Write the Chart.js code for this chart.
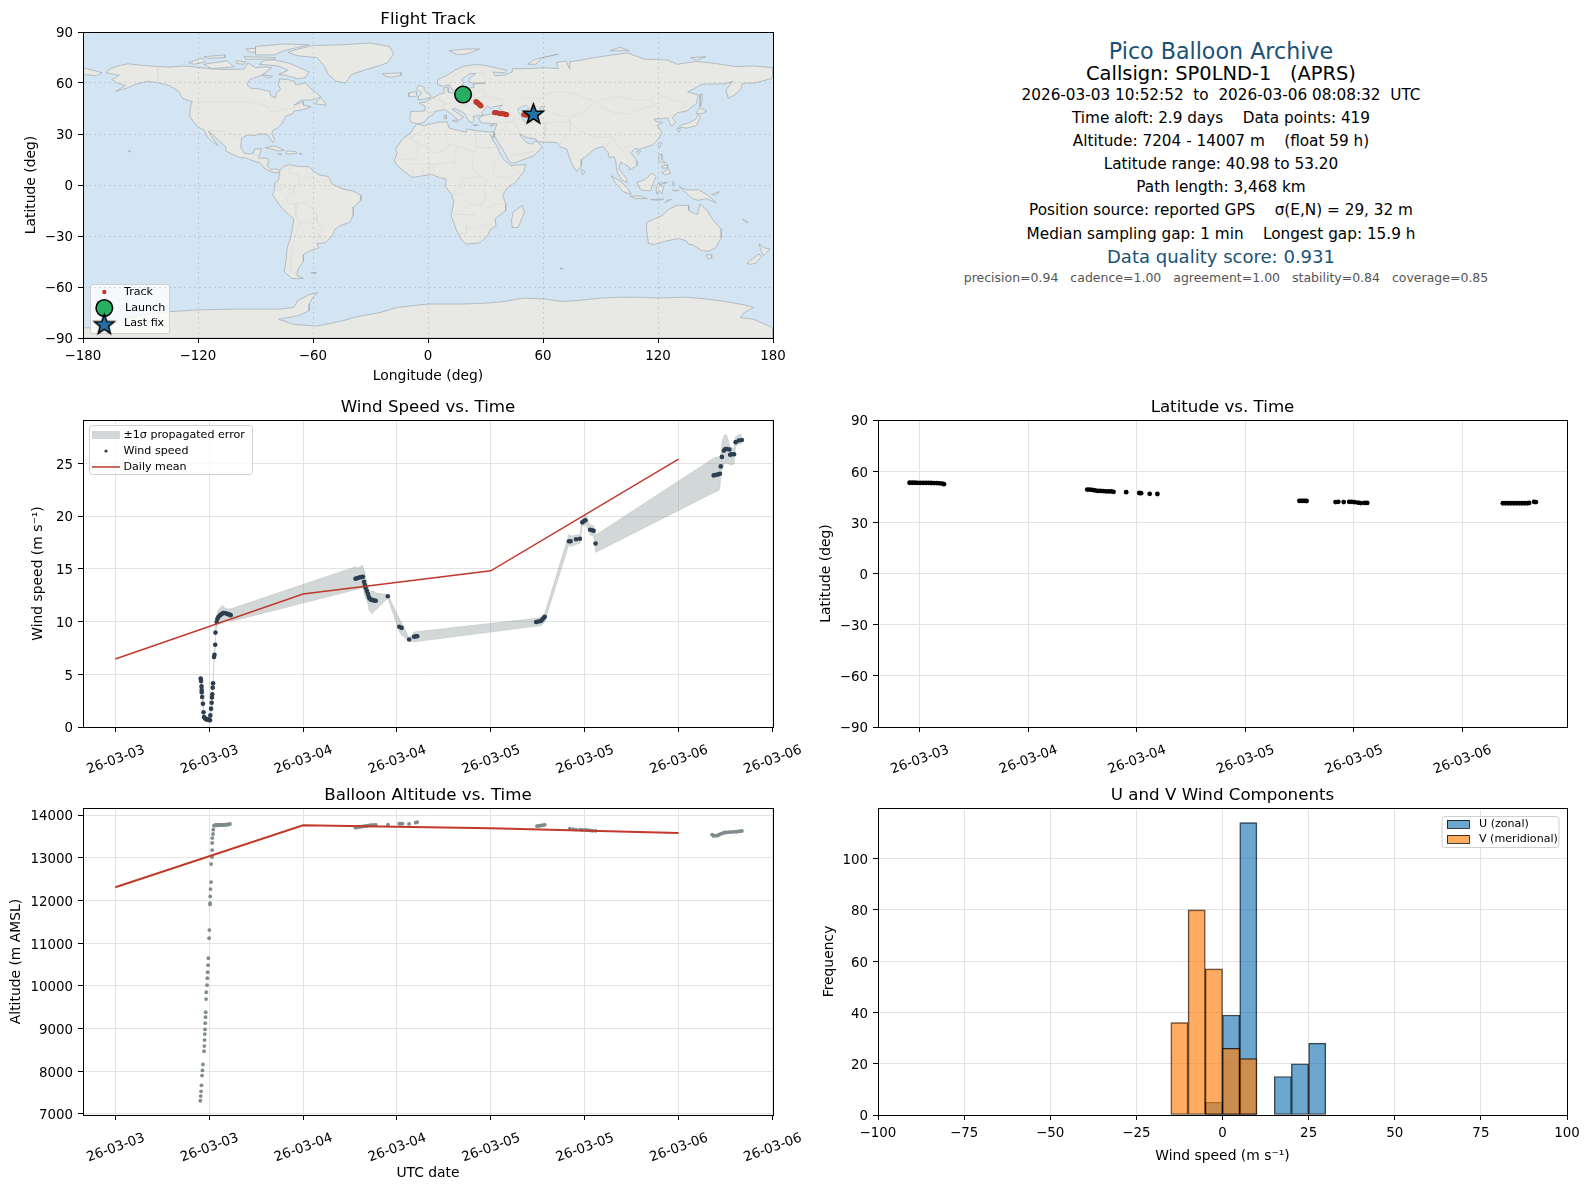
<!DOCTYPE html>
<html><head><meta charset="utf-8">
<script src="https://cdn.jsdelivr.net/npm/chart.js@4/dist/chart.umd.min.js"></script>
<style>
html,body{margin:0;padding:0;background:#fff;width:1589px;height:1189px;overflow:hidden;font-family:"DejaVu Sans",sans-serif}
canvas{position:absolute}
.t{position:absolute;left:840px;width:762px;text-align:center;white-space:pre;color:#000;transform:translateY(-50%);line-height:1}
</style></head><body>
<div id="info"></div>
<script>
// ---------- tick values and labels ----------
const windTickHours=[0,12,24,36,48,60,72,84];
const windTickLabels=["26-03-03","26-03-03","26-03-04","26-03-04","26-03-05","26-03-05","26-03-06","26-03-06"];
const latTickHours=[12,24,36,48,60,72];
const latTickLabels=["26-03-03","26-03-04","26-03-04","26-03-05","26-03-05","26-03-06"];
const lonTicks=[-180,-120,-60,0,60,120,180];
const latTicks=[-90,-60,-30,0,30,60,90];
const windTicks=[0,5,10,15,20,25];
const altTicks=[7000,8000,9000,10000,11000,12000,13000,14000];
const histXTicks=[-100,-75,-50,-25,0,25,50,75,100];
const histYTicks=[0,20,40,60,80,100];

// ---------- wind speed vs time (hours since 26-03-03 00:00) ----------
const windHours=[10.92,10.96,11.02,11.04,11.05,11.1,11.2,11.28,11.34,11.45,11.56,11.7,11.85,12.0,12.1,12.15,12.24,12.32,12.36,12.4,12.45,12.5,12.62,12.68,12.77,12.8,12.96,13.05,13.2,13.4,13.6,13.8,14.0,14.2,14.4,14.6,14.75,
30.7,30.9,31.1,31.3,31.5,31.65,31.8,31.9,32.0,32.15,32.3,32.4,32.5,32.7,32.85,33.05,33.3,34.84,36.3,36.6,37.56,38.2,38.4,38.6,
53.8,54.1,54.4,54.6,54.8,54.9,58.0,58.2,58.9,59.4,59.7,59.9,60.1,60.7,60.95,61.15,61.4,
76.5,76.8,77.1,77.3,77.4,77.55,77.8,78.0,78.2,78.5,78.6,78.8,79.1,79.3,79.7,80.1];
const windSpeed=[4.59,4.35,3.85,3.5,3.3,2.84,2.2,1.4,0.95,0.85,0.75,0.72,0.7,0.68,0.65,1.1,1.74,2.3,2.8,3.1,3.73,4.14,6.63,6.85,7.8,8.95,9.95,10.25,10.45,10.6,10.7,10.8,10.8,10.75,10.7,10.65,10.6,
14.05,14.1,14.15,14.2,14.22,14.24,13.76,13.45,13.2,12.9,12.6,12.35,12.18,12.05,12.05,12.0,11.96,12.4,9.5,9.4,8.3,8.55,8.6,8.6,
9.95,10.0,10.05,10.2,10.35,10.45,17.6,17.6,17.8,17.85,19.4,19.5,19.6,18.7,18.65,18.6,17.4,
23.85,23.9,23.95,24.0,24.7,25.6,26.2,26.35,26.35,26.3,25.8,25.85,25.85,27.0,27.15,27.2];
const windUpper=[4.9,4.65,4.15,3.8,3.6,3.1,2.45,1.65,1.15,1.05,0.95,0.9,0.9,0.88,0.85,1.3,2.0,2.55,3.05,3.35,4.0,4.4,6.95,7.2,8.15,9.4,10.5,10.9,11.1,11.3,11.5,11.5,11.3,11.25,11.2,11.2,11.2,
15.2,15.1,15.1,15.2,15.3,15.3,14.8,14.5,14.15,13.8,13.4,13.1,12.9,12.9,12.9,12.9,12.7,12.55,10.3,9.9,8.45,9.0,9.05,9.05,
10.3,10.35,10.4,10.55,10.7,10.8,18.3,18.1,18.2,18.2,19.8,19.95,20.1,19.2,19.1,19.1,18.2,
25.5,25.6,25.6,25.7,25.8,27.0,27.6,27.75,27.6,26.8,26.6,26.5,26.4,27.5,27.7,27.75];
const windLower=[4.3,4.1,3.6,3.25,3.05,2.6,1.95,1.2,0.75,0.65,0.55,0.52,0.5,0.48,0.45,0.9,1.5,2.05,2.55,2.85,3.45,3.9,6.3,6.5,7.45,8.5,9.5,9.7,9.85,9.95,9.95,10.1,10.15,10.1,10.1,10.1,10.0,
13.0,13.0,13.1,13.15,13.15,13.2,12.8,12.5,12.3,12.0,11.6,11.2,11.0,10.85,10.7,10.95,11.1,12.2,9.0,8.7,8.15,8.05,8.1,8.1,
9.55,9.55,9.6,9.75,9.85,10.0,17.3,17.1,17.3,17.4,19.0,19.1,19.2,18.2,18.15,18.1,16.55,
22.2,22.3,22.4,22.6,23.8,24.3,24.9,25.0,25.0,24.9,24.8,24.85,24.9,26.6,26.8,26.85];
const meanHours=[0,24,48,72];
const meanWind=[6.45,12.6,14.8,25.4];
const meanAltitude=[12310,13760,13690,13580];

// ---------- latitude vs time ----------
const latHours=[10.9,11.2,11.5,11.8,12.1,12.4,12.7,13,13.3,13.6,13.9,14.2,14.5,14.7,
30.55,30.8,31.1,31.4,31.7,32,32.3,32.6,32.9,33.2,33.45,34.85,36.3,36.5,37.45,38.3,
54,54.2,54.4,54.6,54.8,58,58.3,58.9,59.5,59.8,60.1,60.5,60.8,61.2,61.5,
76.5,76.8,77.1,77.4,77.7,78,78.3,78.6,78.9,79.2,79.4,79.95,80.15];
const latValues=[53.2,53.2,53.2,53.15,53.1,53.1,53.1,53.1,53.05,53,53,52.9,52.7,52.4,
49.2,49.2,49,48.7,48.4,48.4,48.3,48.2,48.1,48.1,47.9,47.7,47.2,47.1,46.7,46.6,
42.6,42.6,42.6,42.6,42.5,41.9,42,41.9,42,42,41.8,41.5,41.3,41.4,41.4,
41.2,41.2,41.2,41.2,41.2,41.2,41.2,41.2,41.2,41.2,41.4,42,41.9];

// ---------- altitude vs time ----------
const altHours=[10.87,10.92,10.96,11.02,11.09,11.14,11.2,11.35,11.38,11.41,11.44,11.47,11.5,11.53,11.56,11.6,11.63,11.73,11.76,11.8,11.86,11.9,11.99,12.02,12.11,12.12,12.13,12.17,12.24,12.25,12.37,12.38,12.39,12.4,12.5,12.52,12.62,
12.7,12.8,12.9,13,13.1,13.2,13.3,13.4,13.5,13.6,13.7,13.8,13.9,14,14.1,14.2,14.3,14.4,14.5,14.66,
30.7,30.9,31.1,31.3,31.5,31.7,31.9,32.1,32.3,32.5,32.7,32.9,33.1,33.3,34.85,36.3,36.5,36.7,37.55,38.4,38.6,
53.9,54.1,54.3,54.5,54.7,54.9,58.1,58.5,58.9,59.4,59.7,60.1,60.4,60.7,61,61.4,
76.3,76.5,76.7,77,77.2,77.4,77.6,77.8,78,78.2,78.5,78.7,79,79.3,79.5,79.8,80.1];
const altValues=[7310,7420,7530,7670,7900,8020,8160,8470,8590,8730,8870,8980,9125,9266,9383,9690,9850,10016,10180,10320,10484,10648,11117,11305,11906,11937,12094,12266,12430,12852,13016,13180,13344,13461,13555,13656,13750,
13755,13760,13760,13760,13765,13765,13765,13770,13770,13770,13770,13770,13770,13770,13775,13775,13775,13780,13780,13790,
13703,13710,13720,13725,13730,13735,13740,13745,13750,13755,13760,13760,13765,13766,13773,13797,13800,13797,13790,13820,13835,
13740,13745,13750,13755,13760,13770,13680,13670,13660,13660,13650,13650,13645,13640,13630,13630,
13540,13510,13515,13520,13540,13560,13570,13585,13590,13595,13600,13600,13605,13610,13610,13620,13625];

// ---------- histogram ----------
const binCenters=[-12.5,-7.5,-2.5,2.5,7.5,12.5,17.5,22.5,27.5];
const uCounts=[0,0,5,39,114,0,15,20,28];
const vCounts=[36,80,57,26,22,0,0,0,0];

// ---------- flight track ----------
const trackLon=[18,18.5,19,19.5,20,20.5,25,25.5,26,26.5,27,27.3,27.6,34.7,35.5,36,37.5,38.5,39.5,40.5,41,50,50.8,52,53,54,55];
const trackLat=[53.2,53.1,53,52.9,52.7,52.4,49,48.7,48.3,47.8,47.2,46.9,46.6,42.6,42.6,42.5,42,42,41.9,41.5,41.4,41.4,41.2,41.2,41.2,41.4,41.9];
const launchLon=[18.3], launchLat=[53.2];
const lastLon=[55], lastLat=[41.5];

// ---------- land outlines (lon,lat) ----------
const northAmerica=[[-168,66],[-166,68.3],[-161,70.3],[-156.5,71.3],[-150,70.5],[-141,69.7],[-135,69.3],[-128,70],[-124,69.7],[-115,68.5],[-108,68],[-102,68],[-96,68.2],[-94,71.8],[-90,69],[-85,69.5],[-81.5,69],[-85,66],[-87,64.5],[-93,62],[-94.5,59],[-92.5,57],[-88,56.5],[-82.5,55],[-82,52.5],[-79.5,51.2],[-79,54.5],[-77,56],[-78,59],[-77.5,62.4],[-73,62],[-70,61],[-69,59],[-65.5,59.5],[-64,60.3],[-61,56.5],[-57,53],[-56,51.8],[-60,50],[-66,50],[-70,47],[-65,49],[-65,47],[-61,46],[-66,44],[-70,43.5],[-70.5,42],[-74,40.6],[-75.5,38],[-76,36.5],[-78,34],[-81,32],[-81.5,30],[-80,26.5],[-81,25],[-82.7,28],[-84,30],[-89,30],[-90,29],[-94,29.5],[-97.3,27.5],[-97.7,22],[-96,19],[-94,18.2],[-91,18.7],[-90.5,21],[-87,21.5],[-88,17],[-88.5,15.8],[-84,15.8],[-83.3,14.5],[-83.7,11],[-82,9],[-79.5,9.5],[-77.3,8.7],[-78,7.3],[-80.5,7.3],[-83,8.3],[-85.5,10],[-87.5,13],[-92,14.5],[-95,16],[-98,16],[-102,18],[-105.5,20],[-105.5,22.5],[-109,26],[-112.7,30],[-114.7,31.7],[-112,27],[-109.5,23],[-112,25],[-115,28],[-117,32.5],[-120.5,34.5],[-122.5,37.5],[-124.3,40.5],[-124,46],[-123,49],[-128,51],[-130,55],[-135,58.5],[-140,60],[-146,61],[-152,59.5],[-157,57],[-163,55],[-158,58.5],[-162,60],[-165,62],[-161,64.5],[-168,66]];
const greenland=[[-73,78],[-68,80],[-60,82],[-45,82.5],[-30,83.5],[-20,81.5],[-18,77],[-21,72],[-26,70],[-32,68],[-40,65],[-43,60],[-48,61],[-52,65],[-54,70],[-58,75],[-68,76],[-73,78]];
const baffin=[[-80,73.5],[-72,71.5],[-67,69],[-62,66.5],[-64,63],[-68,62.5],[-74,64.5],[-78,65],[-73,67.5],[-78,70],[-88,71],[-85,73.5],[-80,73.5]];
const victoriaIsland=[[-117,71],[-105,73],[-101,69.5],[-113,68.5],[-117,71]];
const ellesmere=[[-90,76.5],[-80,76.5],[-75,79],[-62,82.5],[-75,83],[-90,81.5],[-90,76.5]];
const banksIsland=[[-125,72],[-118,74.5],[-116,72.5],[-122,71],[-125,72]];
const devonIsland=[[-96,75.5],[-80,75],[-80,74],[-95,74],[-96,75.5]];
const melvilleIsland=[[-117,75.5],[-106,76.5],[-106,75],[-115,74.5],[-117,75.5]];
const axelHeiberg=[[-95,80],[-88,80.5],[-88,78.5],[-93,78],[-95,80]];
const somersetIsland=[[-100,73],[-95,72.5],[-96,71],[-100,71.5],[-100,73]];
const newfoundland=[[-59,47.7],[-56,51.5],[-53,47],[-59,47.7]];
const southampton=[[-87,65],[-81,64],[-83,62.8],[-87,65]];
const cuba=[[-85,22],[-80,23],[-75,20.5],[-78,20],[-85,22]];
const hispaniola=[[-74,20],[-69,19.7],[-68.5,18.5],[-74,18.2],[-74,20]];
const jamaica=[[-78.3,18.4],[-76.3,18.2],[-77,17.8],[-78.3,18.4]];
const puertoRico=[[-67.2,18.5],[-65.7,18.4],[-66,18],[-67.2,18.5]];
const hawaii=[[-156,19.5],[-155,19.6],[-155.5,20.2],[-156,19.5]];
const southAmerica=[[-77.3,8.7],[-75,11],[-72,12],[-68,11],[-62,10.7],[-60,8.5],[-57,6],[-52,5],[-50,0.5],[-44,-2.5],[-39,-3.5],[-35,-6],[-35,-9],[-39,-13],[-39,-18],[-41,-22],[-46,-24],[-48.5,-26],[-50,-30],[-53.5,-34],[-58,-34.5],[-57,-37],[-62,-39],[-65,-41],[-65,-45],[-68,-50],[-68.5,-53],[-65,-55],[-71,-55],[-75,-51],[-74,-44],[-73.5,-37],[-71.5,-30],[-70,-20],[-76,-14],[-81,-6],[-80,-2],[-80,1],[-78,3],[-77.5,7],[-77.3,8.7]];
const falklands=[[-61,-51.5],[-58,-51.5],[-59,-52.3],[-61,-51.5]];
const africa=[[-6,35.8],[-2,35],[5,36.8],[10,37.3],[11,33.5],[15,32.3],[20,31],[20,33],[25,32],[32,31.2],[34.3,31.3],[34.3,27.8],[33,28.5],[32.5,29.8],[34,26],[36,23],[37.5,18.5],[39.5,15],[43,11.5],[51,12],[50,8],[46,2],[41,-2],[39,-6],[40.5,-11],[40.5,-15],[35,-20],[35.5,-24],[32.7,-26],[31,-30],[27,-34],[20,-34.8],[18,-33],[15,-27],[12,-18],[13.5,-10],[12,-5],[9,-1],[9.5,3.5],[6,4.3],[2,6.3],[-4,5.2],[-8,4.4],[-13,8.5],[-16.5,12],[-17.5,14.7],[-16,19],[-17,21],[-13,27.5],[-9.7,30],[-6,35.8]];
const madagascar=[[49.3,-12],[50.3,-16],[47,-25],[44,-25],[43.5,-21],[44.5,-16],[49.3,-12]];
const eurasia=[[-9,37],[-9.5,39],[-9,43.3],[-2,43.5],[-1.2,46],[-4.7,48.3],[-1.5,48.7],[1.5,50.9],[4,52],[6,53.5],[8.5,54],[8.2,57],[10.5,57.5],[10.5,54.5],[14,54],[19,54.5],[21,57],[24,57.3],[23.5,59.3],[30,60],[23,60],[21,61],[22,63],[25,65.5],[22,65.7],[17.5,62],[18.7,60],[16.5,57],[14,55.5],[12.7,56],[11,59],[8,58],[5.2,59],[5,62],[10,64.5],[14,67.5],[19,70],[26,71],[31,70],[41,67.5],[40,66],[34,66.5],[35,64.3],[40,64.7],[44,66.5],[44,68.5],[54,68.5],[60,69],[68,68.5],[67,72],[72,73],[74,68],[74,72.5],[80,73.5],[87,75],[104,77.7],[113,74],[125,73.5],[130,71],[140,72.7],[150,71.5],[160,69.7],[170,70],[180,69],[180,65],[179,62.5],[170,60],[164,59.8],[163,56],[160,53],[156.7,51],[155.5,56],[159,61],[155,59.5],[143,59.3],[135.5,54.7],[141,53],[140,48],[135,43.5],[130,42.5],[127.5,39.5],[129.3,37],[127,34.5],[126,37],[125,39.5],[121.5,39],[118,39],[119,37.3],[122.5,37],[119.5,35],[122,31],[121,28],[117,23.5],[110.5,21],[108,21.5],[106,19],[109,14],[109,11.5],[105,8.7],[105,10.5],[102,12.5],[100.5,13.5],[99.5,9.5],[103.5,4],[104,1.4],[101,3],[98.5,8],[98,14],[97,16.7],[94.5,16],[94,19],[91.5,22.5],[89,22],[87,21.3],[82,16.5],[80,15],[80,11],[77.5,8],[75,12.5],[73,19],[72.5,21],[69,22.5],[67,25],[61.5,25.2],[57,25.5],[56.3,27],[51,28],[48.5,30],[48,29.5],[50,26.5],[51.5,25],[54,24],[56.3,26],[59.7,22.5],[55,17],[45,13],[43,13],[39,21],[35,28],[34.5,31.3],[36,36],[32,36.2],[27.5,36.7],[26.5,39.5],[29,41],[35,42],[41.5,41.5],[37,45],[39,47],[34,46],[33,45],[31,46.5],[28,42.5],[28.9,41],[26,40.7],[23.5,40.2],[24,38],[23,36.5],[21,38],[19.5,41],[19,42.3],[14,45],[12.5,44.5],[18.5,40],[16,38],[12,42],[9,44.3],[3.5,43.3],[3,41.8],[0,39.8],[-2,36.8],[-5.5,36],[-9,37]];
const chukotkaEast=[[-180,69],[-175,67.5],[-170,66],[-173,64.3],[-180,65],[-180,69]];
const britain=[[-5,50],[1,51.2],[1.5,52.7],[-1,54.5],[-2,56],[-2,57.6],[-5,58.6],[-6,56.5],[-3,54],[-5,52],[-5,50]];
const ireland=[[-10,52],[-6,52.2],[-6,55],[-10,54.2],[-10,52]];
const iceland=[[-24,65.5],[-14,66],[-14,64.5],[-19,63.4],[-22,64],[-24,65.5]];
const svalbard=[[11,79],[20,80],[27,80],[20,77],[15,76.8],[11,79]];
const novayaZemlya=[[52,71],[56,74],[68,77],[60,75],[56,71],[52,71]];
const severnaya=[[95,79],[105,79],[100,81],[95,79]];
const newSiberian=[[137,75],[145,75.5],[140,73.5],[137,75]];
const sicily=[[12.5,38],[15.5,38.2],[15,36.7],[12.5,38]];
const sardinia=[[8.3,41],[9.7,41],[9.5,39],[8.5,39],[8.3,41]];
const crete=[[23.5,35.5],[26.3,35.2],[24,35],[23.5,35.5]];
const cyprus=[[32.3,35],[34.5,35.6],[33.5,34.6],[32.3,35]];
const honshu=[[131,34],[135,33.5],[140,35],[142,39.5],[141,41.5],[139.5,38.5],[136,36.5],[132,35.3],[131,34]];
const hokkaido=[[140,42],[141.5,45.5],[145.5,43.5],[143,42],[140,42]];
const kyushu=[[130,33.5],[131.7,33],[131,31],[130,32],[130,33.5]];
const sakhalin=[[142,46],[143,49],[143,54],[142,53],[142,46]];
const taiwan=[[121,25],[122,25],[120.8,22],[120,23.5],[121,25]];
const hainan=[[109,20],[111,20],[110,18.3],[109,19],[109,20]];
const sriLanka=[[80,9.5],[82,7.5],[80.5,6],[80,9.5]];
const sumatra=[[95.5,5.5],[100,2.5],[104,-1.5],[106,-5.5],[102,-4],[98,1],[95.5,5.5]];
const java=[[105.5,-6.5],[111,-6.5],[114.5,-8],[108,-8],[105.5,-6.5]];
const borneo=[[109,1.5],[113,3],[117,7],[119,5],[117.5,1],[116,-3.5],[111,-3],[109,1.5]];
const sulawesi=[[120,1],[125,1.5],[120.5,0],[123,-1],[122,-5],[120.5,-3],[119.5,-5.5],[119,-3],[120,1]];
const newGuinea=[[131,-1],[135,-3],[141,-2.7],[146,-6],[150.5,-10.5],[145,-8],[141,-9],[138,-8],[134,-4],[131,-1]];
const newBritain=[[148,-5.5],[152,-4],[150,-6.3],[148,-5.5]];
const timor=[[123.5,-10.3],[127,-8.4],[125,-9],[123.5,-10.3]];
const flores=[[116,-8.6],[123,-8.3],[120,-9],[116,-8.6]];
const seram=[[127.5,-3],[131,-3.2],[128.5,-3.6],[127.5,-3]];
const halmahera=[[127.5,2],[128.7,1],[128,-0.8],[127.5,2]];
const luzon=[[120.5,18],[122,18],[122,15],[124,13],[120.5,14],[120.5,18]];
const mindanao=[[122,7],[125.5,9.5],[126.5,7],[124,6],[122,7]];
const visayas=[[122,11],[125,12],[125,10],[122,10],[122,11]];
const australia=[[114,-22],[122,-18],[126,-14],[130,-12],[136,-12],[136,-15],[140.5,-17.5],[142,-11],[145.5,-15],[149,-21],[153,-26],[153,-31],[150,-37],[146,-39],[143,-38.7],[138,-35],[136,-35],[135,-33],[131,-31.5],[124,-33],[118,-35],[115,-34.3],[114,-26],[114,-22]];
const tasmania=[[145,-41],[148,-41],[148,-43],[146,-43.5],[145,-41]];
const nzNorth=[[172.7,-34.5],[175.5,-37],[178.5,-37.7],[175,-41.5],[174,-39],[172.7,-34.5]];
const nzSouth=[[172.7,-40.6],[174,-42],[171,-46],[168,-46.7],[166.5,-45.8],[172.7,-40.6]];
const newCaledonia=[[164,-20],[167,-22],[166,-22],[164,-20]];
const kerguelen=[[68.8,-49],[70.5,-49],[69.5,-49.8],[68.8,-49]];
const antarctica=[[-180,-84],[-170,-84],[-158,-79],[-150,-76.5],[-135,-74.5],[-120,-73.5],[-100,-73],[-88,-73],[-78,-73],[-70,-72],[-68,-68],[-62,-64.5],[-57.5,-63.3],[-60,-66],[-62,-70],[-62,-74],[-68,-77],[-78,-79],[-70,-82],[-58,-83],[-45,-80],[-37,-77.5],[-25,-75],[-16,-72],[0,-70],[18,-70],[30,-69.5],[40,-68.5],[50,-66.5],[60,-67],[70,-68.5],[78,-68],[90,-66.5],[100,-66],[110,-66],[120,-66.5],[135,-66],[145,-67],[155,-68.5],[165,-70.5],[170,-72],[165,-75],[163,-78],[170,-79],[180,-84],[180,-90],[-180,-90],[-180,-84]];
const landShapes=[northAmerica,greenland,baffin,victoriaIsland,ellesmere,banksIsland,devonIsland,melvilleIsland,axelHeiberg,somersetIsland,newfoundland,southampton,cuba,hispaniola,jamaica,puertoRico,hawaii,southAmerica,falklands,africa,madagascar,eurasia,chukotkaEast,britain,ireland,iceland,svalbard,novayaZemlya,severnaya,newSiberian,sicily,sardinia,crete,cyprus,honshu,hokkaido,kyushu,sakhalin,taiwan,hainan,sriLanka,sumatra,java,borneo,sulawesi,newGuinea,newBritain,timor,flores,seram,halmahera,luzon,mindanao,visayas,australia,tasmania,nzNorth,nzSouth,newCaledonia,kerguelen,antarctica];
const caspian=[[47,45],[51,47],[53,45],[51,44],[53,41],[54,37],[50,37.5],[49,40],[47,43],[47,45]];
const aral=[[58.5,46],[61,46.5],[60,44],[58.5,44.5],[58.5,46]];
const borderLines=[
[[-123,49],[-95,49],[-89,48],[-83,46],[-82.5,43],[-79,43],[-75,45],[-71,45],[-67.5,47],[-67,45]],
[[-141,69.7],[-141,60.3]],[[-117,32.5],[-108,31.5],[-106,31.7],[-101,29.5],[-97.3,26]],[[-92,14.5],[-91,17.8],[-89,17.8],[-88.5,15.8]],
[[-51.7,4],[-54,2.2],[-58,1.5],[-60,5],[-64,4],[-67,1],[-70,-1],[-70,-4],[-74,-7.5],[-73,-11],[-69,-11],[-65,-10],[-60,-14],[-58,-17.5],[-58,-22],[-54.5,-25.5],[-57.5,-30],[-53.5,-33.7]],
[[-72,12],[-72.5,7],[-67.5,6],[-67,1]],[[-79,1],[-75,0],[-70,-4]],[[-80,-3.5],[-75,-1]],[[-69,-11],[-69,-17],[-70,-18]],[[-69,-17],[-67,-23],[-70,-32],[-71,-40],[-72,-50],[-68.5,-52.5]],[[-67,-23],[-62.5,-22],[-58,-20]],[[-62.5,-22],[-58,-27],[-54.5,-25.5]],[[-57.5,-30],[-58,-34]],
[[-1.5,35],[-2,32],[-8.7,28.7],[-8.7,27.3],[-13,27.5]],[[-8.7,27.3],[3,19],[6,19.5],[12,23.5]],[[-5,25],[-6,15.5],[-12,15],[-16,16]],[[10,33],[9.5,30],[10,24.5],[12,23.5],[15,23],[24,19.5],[25,20],[25,31.5]],[[25,22],[37,22]],[[24,19.5],[23,11],[27,5]],[[15,23],[13.5,14],[14.5,12],[8,4.5]],[[3,12],[13.5,13.5]],[[-12,12.5],[3,12]],[[-8,4.5],[-8,10]],[[-3,5],[-3,11]],[[1,6],[1,11]],[[3,7],[3,12]],[[37,17],[34,10],[35,5],[42,4],[48,8],[43,11]],[[34,-1],[39.5,-4.7]],[[12.2,-6],[17,-5],[22,-11],[28,-12],[30,-8],[29,-2],[31,3],[27,5],[18.5,3.5],[17,-1],[12.5,-4.5]],[[12,-17.2],[24,-17.5],[25.2,-17.8]],[[30,-15],[35,-11.5],[40.5,-10.5]],[[20,-22],[20,-28.5],[16.5,-28.5]],[[20,-25],[25,-25.5],[31,-22.4],[33,-25]],
[[28,69.5],[29,66],[30,60],[28,56],[31,52],[40,50],[38,47.5]],[[47.5,50],[50,51.5],[60,51],[62,54],[70,55],[77,53.5],[87,49]],[[87,49],[98,52],[107,50],[116,50],[120,53.5],[127,50],[135,48.5],[131,43]],[[87,49],[91,45],[97,42.7],[105,41.7],[112,45],[119,47],[116,50]],[[87,49],[80,42.2],[74,40]],[[53,41.5],[56,45],[58,45],[61,44],[68,41],[73,40],[74,37]],[[44.5,39.5],[48,38.5]],[[44.5,39.5],[46,35],[48,30]],[[61,36],[61,29],[61.5,25.2]],[[53.8,37.3],[61,36],[66,37.3],[74,37]],[[74,37],[74,32],[70,26],[68,23.7]],[[74,37],[79,32],[88,28],[97,28],[94,24],[92,21]],[[97,28],[98,24],[101,21],[106,23],[108,21.5]],[[101,21],[105,14.5],[102.5,12]],[[104,20],[108,15],[106,11]],[[125,40],[130,42.5]],[[36,36.5],[44.5,37.3],[44.5,39.5],[42,41.5]],[[35,29.5],[39,32.5],[47,29.5]],[[43,17],[52,19],[55,20],[52,16.5]],[[39,32.5],[42,37.2]],
[[-1.5,43.3],[3,42.4]],[[2.5,51],[8,49],[7,44]],[[7,53.5],[6,50],[8,49]],[[14.5,54],[15,51],[12.5,48],[8,47.7]],[[15,51],[22.5,49],[24,51],[23.5,54],[19.5,54.4]],[[22.5,48],[29.5,45.5]],[[24,51],[31,52]],[[16,46.5],[22,48]],[[13.5,45.5],[16,46.5]],[[20,42],[22.5,41],[26,41.5],[29,44]],[[12,59],[13,64],[20,69],[28,70]],[[24,66],[29,66]]
];

// ---------- colours ----------
const RED='#c0392b',SLATE='#2c3e50',GREY='#7f8c8d',OCEAN='#d3e5f2',LAND='#e8e8e4',COAST='rgba(170,178,182,0.8)',BORDER='#dcdcd8',NAVY='#1a5276',GREEN='#27ae60',STAR='#2471a3';
const TICK=13.4, LBL=13.89, TTL=16.67, LEG=11.1;
const FONT='"DejaVu Sans"';
Chart.defaults.font.family=FONT; Chart.defaults.color='#000'; Chart.defaults.animation=false;
Chart.defaults.devicePixelRatio=1;

function pts(xs,ys){return xs.map((x,i)=>({x,y:ys[i]}));}
function lonlat(a){return a.map(p=>({x:p[0],y:p[1]}));}
function fixedTicks(vals){return s=>{s.ticks=vals.map(v=>({value:v}));};}
const numLabel=v=>String(v).replace('-','\u2212');

const frame={id:'frame',afterDraw(c){const a=c.chartArea,x=c.ctx;x.save();x.strokeStyle='#000';x.lineWidth=1;
 x.strokeRect(Math.round(a.left)+.5,Math.round(a.top)+.5,Math.round(a.right-a.left),Math.round(a.bottom-a.top));x.restore();}};
const ocean={id:'ocean',beforeDatasetsDraw(c){const a=c.chartArea,x=c.ctx;x.save();x.fillStyle=OCEAN;x.fillRect(a.left,a.top,a.right-a.left,a.bottom-a.top);x.restore();}};

function starCanvas(r){const k=document.createElement('canvas');k.width=k.height=2*r+8;const g=k.getContext('2d');const c=r+4;
 g.beginPath();for(let i=0;i<10;i++){const R=i%2?r*0.42:r,t=-Math.PI/2+i*Math.PI/5;g.lineTo(c+R*Math.cos(t),c+R*Math.sin(t));}g.closePath();
 g.fillStyle=STAR;g.fill();g.lineWidth=1.5;g.strokeStyle='#000';g.lineJoin='miter';g.stroke();return k;}
const starImg=starCanvas(10.5);

// legend drawn as a matplotlib style box; positions relative to the plot area
function legendPlugin(box,items,fs){return {id:'boxLegend',afterDatasetsDraw(c){const a=c.chartArea,x=c.ctx;
 const X=box.right!==undefined?a.right-box.right-box.w:a.left+box.left, Y=box.bottom!==undefined?a.bottom-box.bottom-box.h:a.top+box.top;
 x.save();x.fillStyle='rgba(255,255,255,0.8)';x.strokeStyle='#d0d0d0';x.lineWidth=1;x.beginPath();x.roundRect(X+.5,Y+.5,box.w,box.h,3);x.fill();x.stroke();
 items.forEach(it=>{const yy=Y+it.y;const mx=X+it.mx;const hw=it.hw||14;
  if(it.kind==='patch'){x.fillStyle=it.color;x.fillRect(mx-hw,yy-4,2*hw,8);if(it.edge){x.strokeStyle=it.edge;x.lineWidth=1;x.strokeRect(mx-hw+.5,yy-4+.5,2*hw,8);}}
  if(it.kind==='dot'){x.fillStyle=it.color;x.beginPath();x.arc(mx,yy,it.r,0,7);x.fill();if(it.edge){x.strokeStyle=it.edge;x.lineWidth=it.lw;x.stroke();}}
  if(it.kind==='line'){x.strokeStyle=it.color;x.lineWidth=1.5;x.beginPath();x.moveTo(mx-hw,yy);x.lineTo(mx+hw,yy);x.stroke();}
  if(it.kind==='img'){x.drawImage(it.img,mx-it.img.width/2,yy+(it.dy||0)-it.img.height/2);}
  x.fillStyle='#000';x.font=fs+'px '+FONT;x.textBaseline='middle';x.textAlign='left';x.fillText(it.text,X+it.tx,yy);
 });x.restore();}};}

function panel(id,r,cfg){
 // r: plot rect L,R,T,B ; yTitleX: centre of y axis title ; xTitleY: centre of x axis title
 const titleH=22, half=LBL*1.2/2;
 const left=Math.round(r.yTitleX-half), top=r.T-titleH, xH=(r.xTitleY?Math.round(r.xTitleY+half-r.B):64), padR=45;
 const cv=document.createElement('canvas');cv.id=id;cv.style.left=left+'px';cv.style.top=top+'px';
 const w=r.R-left+padR,h=r.B-top+xH;cv.width=w;cv.height=h;cv.style.width=w+'px';cv.style.height=h+'px';document.body.appendChild(cv);
 const o=cfg.options;o.responsive=false;o.animation=false;o.layout={padding:{left:0,right:padR,top:0,bottom:0}};
 o.scales.x.afterFit=s=>{s.height=xH;};o.scales.y.afterFit=s=>{s.width=r.L-left;};
 o.plugins=Object.assign({legend:{display:false},tooltip:{enabled:false},title:{display:true,fullSize:false,text:r.title,font:{size:TTL,weight:'normal',family:FONT,lineHeight:1.2},color:'#000',padding:{top:0,bottom:titleH-TTL*1.2}}},o.plugins||{});
 cfg.plugins=(cfg.plugins||[]).concat([frame]);
 return new Chart(cv,cfg);
}
const GRID='#e3e3e3';
const titleOf=t=>({display:true,text:t,padding:0,font:{size:LBL,lineHeight:1.2},color:'#000'});
function yAxis(min,max,vals,title){return {type:'linear',min,max,title:titleOf(title),afterBuildTicks:fixedTicks(vals),
 ticks:{font:{size:TICK},color:'#000',padding:5,labelOffset:2,autoSkip:false,callback:numLabel},
 grid:{color:GRID,lineWidth:1,tickColor:'#000',tickLength:5,drawTicks:true},border:{display:true,color:'#000'}};}
function xAxis(min,max,vals,title){return {type:'linear',min,max,offset:false,title:titleOf(title),afterBuildTicks:fixedTicks(vals),
 ticks:{font:{size:TICK},color:'#000',padding:5,autoSkip:false,maxRotation:0,callback:numLabel},
 grid:{color:GRID,lineWidth:1,tickColor:'#000',tickLength:5,offset:false},border:{display:true,color:'#000'}};}
function timeAxis(min,max,vals,labs,title){return {type:'linear',min,max,
 title:title?titleOf(title):{display:false},afterBuildTicks:fixedTicks(vals),
 ticks:{autoSkip:false,minRotation:20,maxRotation:20,labelOffset:29,padding:10,font:{size:TICK},color:'#000',callback:(v,i)=>labs[i]},
 grid:{color:GRID,lineWidth:1,tickColor:'#000',tickLength:5},border:{display:true,color:'#000'}};}

// ---------- Flight track ----------
const mapSets=[];
mapSets.push({label:'Last fix',data:pts(lastLon,lastLat),pointStyle:starImg,pointRadius:12,showLine:false,order:0});
mapSets.push({label:'Launch',data:pts(launchLon,launchLat),pointBorderColor:'#000',pointBorderWidth:1.5,pointBackgroundColor:GREEN,pointRadius:8.3,showLine:false,order:1});
mapSets.push({label:'Track',data:pts(trackLon,trackLat),pointBackgroundColor:RED,pointBorderColor:RED,pointRadius:2.6,pointBorderWidth:0,showLine:false,order:2});
[caspian,aral].forEach(s=>mapSets.push({data:lonlat(s),showLine:true,fill:'shape',backgroundColor:OCEAN,borderColor:COAST,borderWidth:.8,pointRadius:0,tension:0,order:3}));
borderLines.forEach(s=>mapSets.push({data:lonlat(s),showLine:true,fill:false,borderColor:BORDER,borderWidth:.8,pointRadius:0,tension:0,order:4}));
landShapes.forEach(s=>mapSets.push({data:lonlat(s),showLine:true,fill:'shape',backgroundColor:LAND,borderColor:COAST,borderWidth:1,pointRadius:0,tension:0,order:5}));
function mapAxis(min,max,vals,title,lo){const a=xAxis(min,max,vals,title);a.grid={color:'rgba(130,130,130,0.26)',lineWidth:1,tickColor:'#000',tickLength:5,z:1};a.border={display:true,color:'#000',dash:[2,3],z:2};if(lo)a.ticks.labelOffset=lo;return a;}
panel('map',{L:83,R:773,T:32,B:338,yTitleX:31.5,xTitleY:377,title:'Flight Track'},{type:'scatter',data:{datasets:mapSets},
 plugins:[ocean,legendPlugin({left:7,bottom:5,w:79,h:49},[
  {kind:'dot',mx:14.3,y:8,r:2.2,color:RED,text:'Track',tx:34},
  {kind:'dot',mx:14.3,y:24,r:8.3,color:GREEN,edge:'#000',lw:1.5,text:'Launch',tx:35},
  {kind:'img',mx:14.3,y:39,dy:2,img:starImg,text:'Last fix',tx:34}],LEG)],
 options:{scales:{x:mapAxis(-180,180,lonTicks,'Longitude (deg)'),y:mapAxis(-90,90,latTicks,'Latitude (deg)',2)}}});

// ---------- Wind ----------
panel('wind',{L:83,R:773,T:420,B:727,yTitleX:38.5,title:'Wind Speed vs. Time'},{type:'scatter',data:{datasets:[
 {label:'±1σ propagated error',data:pts(windHours,windUpper),showLine:true,fill:'+1',backgroundColor:'rgba(127,140,141,0.35)',borderColor:'rgba(127,140,141,0.3)',borderWidth:.6,pointRadius:0,tension:0,order:3},
 {label:'lower',data:pts(windHours,windLower),showLine:true,fill:false,borderColor:'rgba(127,140,141,0.3)',borderWidth:.6,pointRadius:0,tension:0,order:3},
 {label:'Wind speed',data:pts(windHours,windSpeed),showLine:false,pointBackgroundColor:SLATE,pointBorderWidth:0,pointRadius:2.3,order:2},
 {label:'Daily mean',data:pts(meanHours,meanWind),showLine:true,fill:false,borderColor:RED,borderWidth:1.5,pointRadius:0,tension:0,order:1}
 ]},plugins:[legendPlugin({left:6,top:5,w:163,h:49},[
  {kind:'patch',mx:17,y:10,color:'rgba(127,140,141,0.35)',text:'±1σ propagated error',tx:34.5},
  {kind:'dot',mx:17,y:26,r:1.6,color:SLATE,text:'Wind speed',tx:34.5},
  {kind:'line',mx:17,y:42,color:RED,text:'Daily mean',tx:34.5}],LEG)],
 options:{scales:{x:timeAxis(-4.13,84.08,windTickHours,windTickLabels),y:yAxis(0,29.1,windTicks,'Wind speed (m s⁻¹)')}}});

// ---------- Latitude ----------
panel('lat',{L:878,R:1567,T:420,B:727,yTitleX:826,title:'Latitude vs. Time'},{type:'scatter',data:{datasets:[
 {label:'Latitude',data:pts(latHours,latValues),showLine:false,pointBackgroundColor:'#000',pointBorderWidth:0,pointRadius:2.4}
 ]},options:{scales:{x:timeAxis(7.41,83.59,latTickHours,latTickLabels),y:yAxis(-90,90,latTicks,'Latitude (deg)')}}});

// ---------- Altitude ----------
panel('alt',{L:83,R:773,T:808,B:1115,yTitleX:16.5,xTitleY:1173.5,title:'Balloon Altitude vs. Time'},{type:'scatter',data:{datasets:[
 {label:'Altitude',data:pts(altHours,altValues),showLine:false,pointBackgroundColor:GREY,pointBorderWidth:0,pointRadius:1.9,order:2},
 {label:'Daily mean',data:pts(meanHours,meanAltitude),showLine:true,fill:false,borderColor:RED,borderWidth:2,pointRadius:0,tension:0,order:1}
 ]},options:{scales:{x:timeAxis(-4.13,84.08,windTickHours,windTickLabels,'UTC date'),y:yAxis(6976,14164,altTicks,'Altitude (m AMSL)')}}});

// ---------- Histogram ----------
panel('hist',{L:878,R:1567,T:808,B:1115,yTitleX:829,xTitleY:1157,title:'U and V Wind Components'},{type:'bar',data:{datasets:[
 {label:'U (zonal)',data:pts(binCenters,uCounts),backgroundColor:'rgba(31,119,180,0.65)',borderColor:'rgba(0,0,0,0.75)',borderWidth:1,borderSkipped:false,grouped:false,barPercentage:1,categoryPercentage:1,order:2},
 {label:'V (meridional)',data:pts(binCenters,vCounts),backgroundColor:'rgba(255,127,14,0.65)',borderColor:'rgba(0,0,0,0.75)',borderWidth:1,borderSkipped:false,grouped:false,barPercentage:1,categoryPercentage:1,order:1}
 ]},plugins:[legendPlugin({right:8.5,top:8,w:117,h:31},[
  {kind:'patch',mx:16.5,hw:11,y:8,color:'rgba(31,119,180,0.65)',edge:'rgba(0,0,0,0.75)',text:'U (zonal)',tx:37.5},
  {kind:'patch',mx:16.5,hw:11,y:23,color:'rgba(255,127,14,0.65)',edge:'rgba(0,0,0,0.75)',text:'V (meridional)',tx:37.5}],LEG)],
 options:{scales:{x:xAxis(-100,100,histXTicks,'Wind speed (m s⁻¹)'),y:yAxis(0,119.7,histYTicks,'Frequency')}}});

// ---------- text panel ----------
const infoLines=[
 ['Pico Balloon Archive',22.2,50.7,NAVY,0],
 ['Callsign: SP0LND-1   (APRS)',19.44,74,'#000',0],
 ['2026-03-03 10:52:52  to  2026-03-06 08:08:32  UTC',15.28,95.7,'#000',0],
 ['Time aloft: 2.9 days    Data points: 419',15.28,119,'#000',0],
 ['Altitude: 7204 - 14007 m    (float 59 h)',15.28,142.4,'#000',0],
 ['Latitude range: 40.98 to 53.20',15.28,164.7,'#000',0],
 ['Path length: 3,468 km',15.28,188,'#000',0],
 ['Position source: reported GPS    σ(E,N) = 29, 32 m',15.28,211.3,'#000',0],
 ['Median sampling gap: 1 min    Longest gap: 15.9 h',15.28,234.5,'#000',0],
 ['Data quality score: 0.931',18.05,257.4,NAVY,0],
 ['precision=0.94   cadence=1.00   agreement=1.00   stability=0.84   coverage=0.85',12.5,277.7,'#555555',5]];
const info=document.getElementById('info');
infoLines.forEach(l=>{const d=document.createElement('div');d.className='t';d.textContent=l[0];d.style.fontSize=l[1]+'px';d.style.top=l[2]+'px';d.style.color=l[3];d.style.marginLeft=l[4]+'px';info.appendChild(d);});
</script>
</body></html>
